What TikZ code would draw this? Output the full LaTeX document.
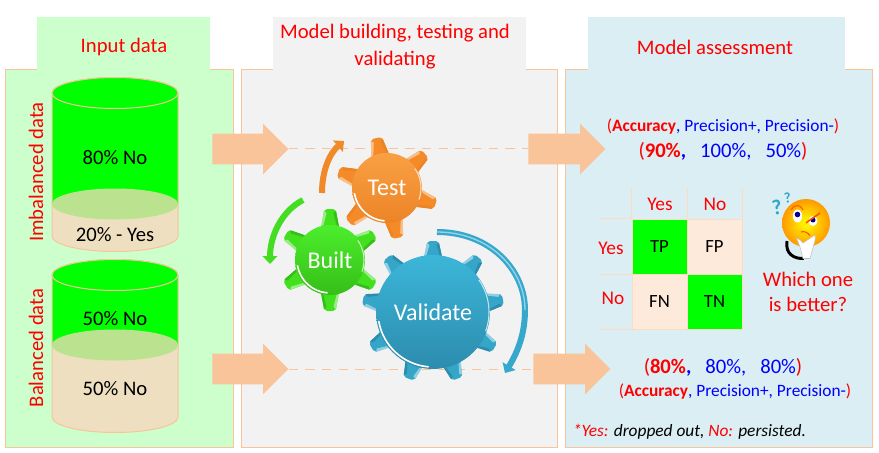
\documentclass[tikz,border=0pt]{standalone}
\usepackage{fontspec}
\setmainfont{Carlito}
\usetikzlibrary{shapes.arrows, arrows.meta}

\definecolor{peach}{HTML}{F9C49A}
\definecolor{panelgreen}{HTML}{CCFFCC}
\definecolor{panelgray}{HTML}{F2F2F2}
\definecolor{panelblue}{HTML}{DAEEF3}
\definecolor{canbeige}{HTML}{EEDFC0}
\definecolor{canmid}{HTML}{BBE28F}
\definecolor{cellpeach}{HTML}{FDEADA}
\definecolor{precblue}{HTML}{0000FF}
\definecolor{curveorange}{HTML}{F08A28}
\definecolor{curvegreen}{HTML}{43DD22}
\definecolor{curveblue}{HTML}{35A8CC}
\definecolor{querycyan}{HTML}{2FA8C8}
\newcommand{\red}[1]{\textcolor{red}{#1}}
\newcommand{\blu}[1]{\textcolor{precblue}{#1}}
\def\px{0.75pt}

\begin{document}
\begin{tikzpicture}[x=0.75pt, y=-0.75pt]
    % Styles
    \tikzstyle{panel} = [rectangle, draw=peach, line width=0.75pt, inner sep=0, minimum height=377*\px]
    \tikzstyle{tabbox} = [rectangle, inner sep=0, minimum height=53.5*\px]
    \tikzstyle{blockarrow} = [single arrow, fill=peach, anchor=tail, inner xsep=0, inner ysep=11.25pt, minimum height=57pt, single arrow head extend=7.5pt]
    \tikzstyle{flow} = [draw=peach, line width=0.75pt, dash pattern=on 7pt off 5.5pt]
    \tikzstyle{title} = [text=red, font=\fontsize{15.5}{18}\selectfont, align=center]
    \tikzstyle{cantext} = [font=\fontsize{15.5}{18}\selectfont]
    \tikzstyle{cell} = [rectangle, draw=peach!60, line width=0.75pt, minimum size=55*\px, inner sep=0, font=\fontsize{14}{16}\selectfont]
    \tikzstyle{smalltext} = [font=\fontsize{13}{15}\selectfont]
    \tikzstyle{bigtext} = [font=\fontsize{15.5}{18}\selectfont]
    \useasboundingbox (0,0) rectangle (879,453);

    % Panels
    \node[panel, fill=panelgreen, minimum width=228*\px] (inputpanel) at (119,258.5) {};
    \node[panel, fill=panelgray, minimum width=316*\px] (modelpanel) at (399,258.5) {};
    \node[panel, fill=panelblue, minimum width=307*\px] (assesspanel) at (718.5,258.5) {};
    \node[tabbox, fill=panelgreen, minimum width=173*\px] (inputtab) at (123.5,44) {};
    \node[tabbox, fill=panelgray, minimum width=253*\px] (modeltab) at (399.5,44) {};
    \node[tabbox, fill=panelblue, minimum width=257*\px] (assesstab) at (716.5,44) {};
    \node[title] (inputtitle) at (124,47) {Input data};
    \node[title] (modeltitle) at (395,46.5) {Model building, testing and\\[2pt]validating};
    \node[title] (assesstitle) at (715,47) {Model assessment};
    \node[title, rotate=90] (imbal) at (36,172) {Imbalanced data};
    \node[title, rotate=90] (bal) at (36,348) {Balanced data};

    % Data cans
    \foreach \top/\mid/\bot in {93/204/236, 275/345/417} {
        \fill[canbeige, draw=peach, line width=0.75pt] (52,\mid) -- (52,\bot) arc (180:0:63 and 15.5) -- (178,\mid) -- cycle;
        \fill[green, draw=peach, line width=0.75pt] (52,\top) -- (52,\mid) -- (178,\mid) -- (178,\top) arc (0:-180:63 and 15.5) -- cycle;
        \fill[green, draw=peach, line width=0.75pt] (115,\top) ellipse (63 and 15.5);
        \fill[canmid] (115,\mid) ellipse (63 and 15.5);
    }
    \node[cantext] (noA) at (115,158) {80\% No};
    \node[cantext] (yesA) at (115,235) {20\% - Yes};
    \node[cantext] (noB) at (115,319) {50\% No};
    \node[cantext] (noC) at (115,389) {50\% No};

    % Block arrows
    \node[blockarrow] (inA) at (212,149) {};
    \node[blockarrow] (inB) at (212,369) {};
    \node[blockarrow, minimum height=57.75pt] (outA) at (528,149) {};
    \node[blockarrow, minimum height=57.75pt] (outB) at (533,369) {};
    \draw[flow] (inA.tip) -- (outA.tail);
    \draw[flow] (inB.tip) -- (outB.tail);

    % Gears
    \foreach \name/\cx/\cy/\rb/\rt/\first/\num/\lite/\base/\dark/\fsize in {
        Test/387/188/35/51/102/6/F9A044/F58A28/EC8426/18,
        Built/330/260/35/51/90/6/4CEE2C/43E020/36BE18/18,
        Validate/433/312/57/71/90/9/3CB6D8/35A5C8/2C8CAE/18} {
        \pgfmathsetmacro{\gap}{360/\num}
        \definecolor{gearlite}{HTML}{\lite}
        \definecolor{gearbase}{HTML}{\base}
        \definecolor{geardark}{HTML}{\dark}
        \foreach \i in {1,...,\num} {
            \begin{scope}[shift={(\cx,\cy)}, rotate={\first-(\i-1)*\gap}]
                \fill[gearbase] (\rb-4,-9) -- (\rt-2,-6) -- (\rt,-3) -- (\rt,3) -- (\rt-2,6) -- (\rb-4,9) -- cycle;
                \fill[white!45!gearbase] (\rb-1,-9) -- (\rt-2,-6) -- (\rt-4,-3.5) -- (\rb,-6.5) -- cycle;
                \fill[geardark] (\rb-1,9) -- (\rt-2,6) -- (\rt-4,3.5) -- (\rb,6.5) -- cycle;
            \end{scope}
        }
        \shade[top color=gearlite, bottom color=geardark] (\cx,\cy) circle (\rb);
        \draw[white, line width=1.2pt, line cap=round] (\cx,\cy) ++(170:\rb-2) arc (170:95:\rb-2);
        \draw[white!70!gearbase, line width=0.8pt] (\cx,\cy) ++(20:\rb-1) arc (20:-35:\rb-1);
        \node[text=white, font=\fontsize{\fsize}{20}\selectfont] (\name) at (\cx,\cy) {\name};
    }

    % Curved arrows
    \coordinate (testS) at (322,193);
    \coordinate (testE) at (344,141);
    \coordinate (builtS) at (303,200);
    \coordinate (builtE) at (270,264);
    \coordinate (validS) at (437,232);
    \coordinate (validM) at (525,310);
    \coordinate (validE) at (505,373);
    \tikzstyle{curve} = [line width=4.5pt, -{Triangle[width=11pt, length=6pt]}]
    \draw[curve, draw=curveorange] (testS) .. controls (322,170) and (330,153) .. (testE);
    \draw[curve, draw=curvegreen] (builtS) .. controls (280,212) and (270,238) .. (builtE);
    \draw[curve, draw=curveblue] (validS) .. controls (490,232) and (525,270) .. (validM) .. controls (525,335) and (517,353) .. (validE);
    \draw[white, opacity=0.5, line width=1pt] (validS) .. controls (490,232) and (525,270) .. (validM);

    % Results
    \node[smalltext] (metricsA) at (723,127) {\red{(\textbf{Accuracy}}\blu{, Precision+, Precision-}\red{)}};
    \node[bigtext] (valuesA) at (723,151) {\red{(\textbf{90\%}}\blu{\textbf{,}\ \ \ 100\%,\ \ \ 50\%}\red{)}};
    \node[bigtext] (valuesB) at (723,367) {\red{(\textbf{80\%}}\blu{\textbf{,}\ \ \ 80\%,\ \ \ 80\%}\red{)}};
    \node[smalltext] (metricsB) at (735,392) {\red{(\textbf{Accuracy}}\blu{, Precision+, Precision-}\red{)}};
    \node[smalltext] (note) at (689.5,432) {\itshape\red{*Yes:} dropped out, \red{No:} persisted.};

    % Confusion table
    \node[cell, fill=green] (TP) at (659.5,246.5) {TP};
    \node[cell, fill=cellpeach] (FP) at (714.5,246.5) {FP};
    \node[cell, fill=cellpeach] (FN) at (659.5,301.5) {FN};
    \node[cell, fill=green] (TN) at (714.5,301.5) {TN};
    \node[title, font=\fontsize{14.5}{16}\selectfont] (colyes) at (660,204) {Yes};
    \node[title, font=\fontsize{14.5}{16}\selectfont] (colno) at (715,204) {No};
    \node[title, font=\fontsize{14.5}{16}\selectfont] (rowyes) at (611,248) {Yes};
    \node[title, font=\fontsize{14.5}{16}\selectfont] (rowno) at (613,298) {No};
    \draw[draw=peach!60, line width=0.75pt] (TP.north west) -- ++(0,-31);
    \draw[draw=peach!60, line width=0.75pt] (TP.north east) -- ++(0,-31);
    \draw[draw=peach!60, line width=0.75pt] (FP.north east) -- ++(0,-31);
    \draw[draw=peach!60, line width=0.75pt] (TP.north west) -- ++(-32,0);
    \draw[draw=peach!60, line width=0.75pt] (TP.south west) -- ++(-32,0);
    \draw[draw=peach!60, line width=0.75pt] (FN.south west) -- ++(-32,0);

    % Thinking face
    \draw[black, line width=2.2pt] (787,241) .. controls (785,254) and (794,259) .. (804,258.5);
    \shade[inner color=yellow, outer color=orange!80!yellow] (806,223) circle (24);
    \fill[white] (797.5,216) ellipse (4.7 and 6.5);
    \fill[white] (813,221) ellipse (4.5 and 5);
    \fill[blue!60!black] (797.5,214.5) circle (2.8);
    \fill[blue!60!black] (813,220) circle (2.5);
    \draw[orange!70!red, line width=0.8pt] (791,210) .. controls (794,204) and (801,204) .. (803,210);
    \draw[orange!60!red, line width=1.2pt] (806,223) .. controls (811,219) and (816,216) .. (820,213);
    \draw[orange!60!red, line width=0.8pt] (801,232) .. controls (804,231) and (808,232) .. (810,236);
    \fill[white, draw=gray!50, line width=0.4pt] (796.5,238) .. controls (799,238) and (801,241) .. (803,243) -- (815,235) .. controls (816,240) and (814,243) .. (813.5,246) -- (810,258.5) -- (803,258.5) -- (800,247) -- cycle;
    \node[text=querycyan, font=\bfseries\fontsize{16}{17}\selectfont, rotate=10, inner sep=0] (qbig) at (777,207) {?};
    \node[text=querycyan, font=\bfseries\fontsize{11}{12}\selectfont, rotate=10, inner sep=0] (qsmall) at (787.5,198) {?};
    \node[title] (which) at (808,292) {Which one\\[1pt]is better?};
\end{tikzpicture}
\end{document}
